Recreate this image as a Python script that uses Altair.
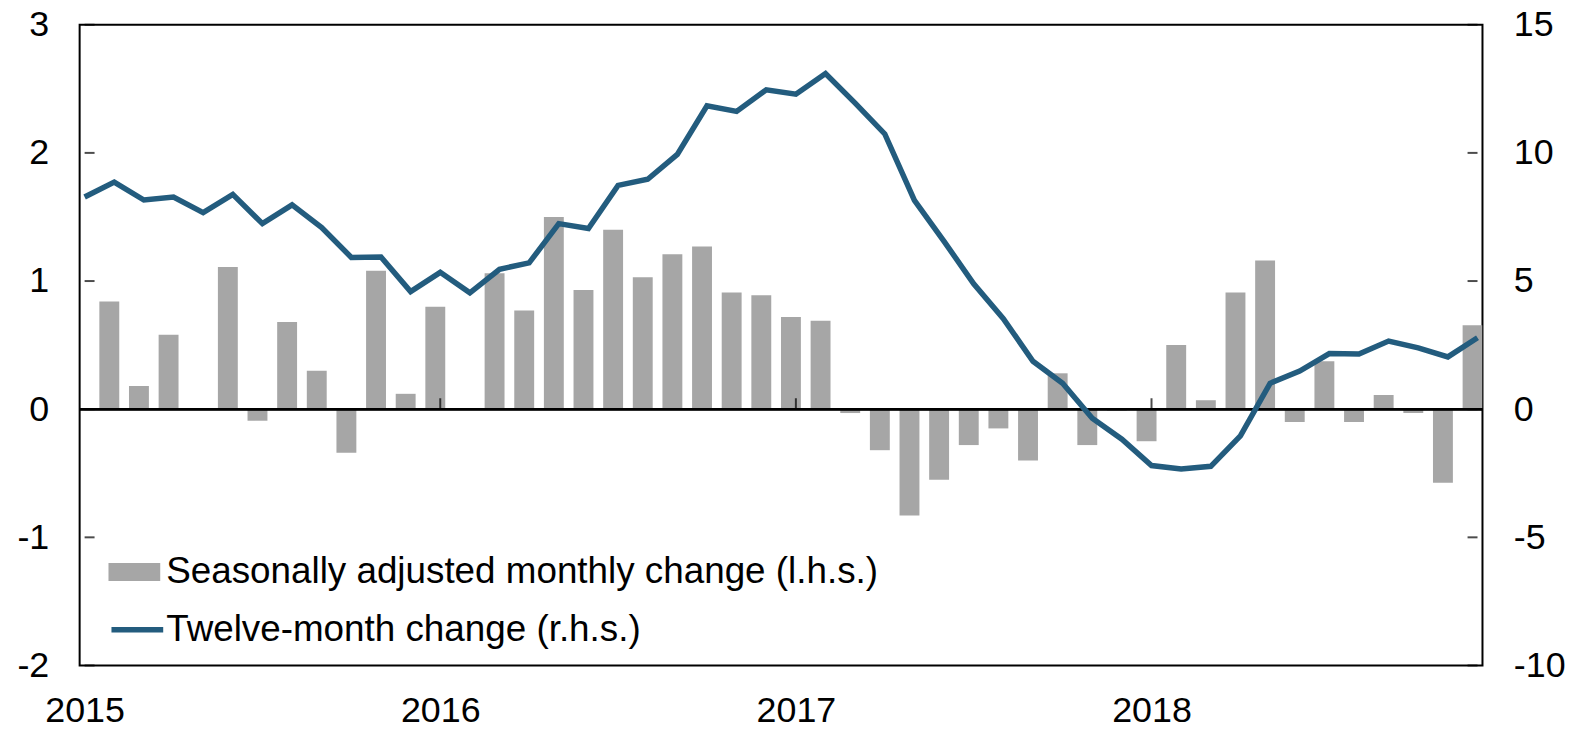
import altair as alt
import pandas as pd

# ---- data ----
years = ["2015", "2016", "2017", "2018"]
year_month_index = [0, 12, 24, 36]

# months Jan 2015 .. Dec 2018 (index 0..47)
month_index = list(range(48))

# Twelve-month change (r.h.s.), Jan 2015 .. Dec 2018
twelve_month = [8.28, 8.86, 8.16, 8.28, 7.67, 8.38, 7.24, 7.97, 7.09, 5.92, 5.94, 4.59,
                5.34, 4.54, 5.46, 5.71, 7.24, 7.05, 8.73, 8.97, 9.94, 11.84, 11.62, 12.46,
                12.29, 13.10, 11.94, 10.74, 8.15, 6.55, 4.89, 3.53, 1.87, 1.01, -0.35, -1.17,
                -2.20, -2.33, -2.23, -1.04, 1.01, 1.49, 2.17, 2.15, 2.66, 2.39, 2.04, 2.79]

# Seasonally adjusted monthly change (l.h.s.), Feb 2015 .. Dec 2018
bar_month_index = list(range(1, 48))
monthly = [0.84, 0.18, 0.58, 0.01, 1.11, -0.09, 0.68, 0.30, -0.34, 1.08, 0.12,
           0.80, 0.00, 1.06, 0.77, 1.50, 0.93, 1.40, 1.03, 1.21, 1.27, 0.91, 0.89,
           0.72, 0.69, -0.03, -0.32, -0.83, -0.55, -0.28, -0.15, -0.40, 0.28, -0.28, -0.01,
           -0.25, 0.50, 0.07, 0.91, 1.16, -0.10, 0.375, -0.10, 0.11, -0.03, -0.575, 0.655]

left_ticks = [-2, -1, 0, 1, 2, 3]
right_ticks = [-10, -5, 0, 5, 10, 15]

bar_label = "Seasonally adjusted monthly change (l.h.s.)"
line_label = "Twelve-month change (r.h.s.)"

BAR_COLOR = "#a6a6a6"
LINE_COLOR = "#235c7e"
FONT = "Liberation Sans"
AXIS_FS = 36
HYPHEN_EXPR = "replace(datum.label, '\u2212', '-')"

# ---- tables ----
bar_df = pd.DataFrame({
    "m": [i - 1 / 6 for i in bar_month_index],  # bars sit slightly before the month point
    "v": monthly,
    "s": bar_label,
})
line_df = pd.DataFrame({"m": month_index, "v": twelve_month, "s": line_label})
lt_df = pd.DataFrame({"t": left_ticks})
rt_df = pd.DataFrame({"t": right_ticks})
xt_df = pd.DataFrame({"m": year_month_index[1:]})

x_scale = alt.Scale(domain=[0, 47], nice=False, zero=False)
yl_scale = alt.Scale(domain=[-2, 3], nice=False, zero=False)
yr_scale = alt.Scale(domain=[-10, 15], nice=False, zero=False)

label_expr = " : ".join(
    f"datum.value == {v} ? '{y}'" for v, y in zip(year_month_index, years)
) + " : ''"

x_axis = alt.Axis(values=year_month_index, labelExpr=label_expr, orient="bottom",
                  ticks=False, domain=False, grid=False, title=None,
                  labelFontSize=AXIS_FS, labelFont=FONT, labelColor="black",
                  labelPadding=28, labelFlush=False, labelOverlap=False)

bars = alt.Chart(bar_df).mark_bar(size=20, clip=True, orient="vertical").encode(
    x=alt.X("m:Q", scale=x_scale, axis=x_axis),
    y=alt.Y("v:Q", scale=yl_scale,
            axis=alt.Axis(orient="left", values=left_ticks, ticks=False, domain=False,
                          grid=False, title=None, labelFontSize=AXIS_FS, labelFont=FONT,
                          labelColor="black", labelPadding=31, labelFlush=False,
                          labelExpr=HYPHEN_EXPR)),
    fill=alt.Fill("s:N", scale=alt.Scale(domain=[bar_label], range=[BAR_COLOR]),
                  legend=alt.Legend(orient="none", legendX=29, legendY=524, title=None,
                                    symbolType="M-1,-0.35L1,-0.35L1,0.35L-1,0.35Z",
                                    symbolSize=2704, symbolStrokeWidth=0, symbolOpacity=1,
                                    labelFontSize=37, labelFont=FONT, labelColor="black",
                                    labelOffset=6, labelLimit=2000, padding=0)),
)

zero_rule = alt.Chart(lt_df).mark_rule(color="black", strokeWidth=2).encode(
    y=alt.Y(datum=0, scale=yl_scale, axis=None)
)

left_tick_marks = alt.Chart(lt_df).mark_tick(
    orient="horizontal", size=10, thickness=2, xOffset=5, color="black"
).encode(
    y=alt.Y("t:Q", scale=yl_scale, axis=None),
    x=alt.X(datum=0, scale=x_scale),
)

x_tick_marks = alt.Chart(xt_df).mark_tick(
    orient="vertical", size=11, thickness=2, yOffset=-5.5, color="black"
).encode(
    x=alt.X("m:Q", scale=x_scale),
    y=alt.Y(datum=0, scale=yl_scale, axis=None),
)

right_tick_marks = alt.Chart(rt_df).mark_tick(
    orient="horizontal", size=10, thickness=2, xOffset=-5, color="black"
).encode(
    y=alt.Y("t:Q", scale=yr_scale, axis=None),
    x=alt.X(datum=47, scale=x_scale),
)

line = alt.Chart(line_df).mark_line(strokeWidth=5.5).encode(
    x=alt.X("m:Q", scale=x_scale),
    y=alt.Y("v:Q", scale=yr_scale,
            axis=alt.Axis(orient="right", values=right_ticks, ticks=False, domain=False,
                          grid=False, title=None, labelFontSize=AXIS_FS, labelFont=FONT,
                          labelColor="black", labelPadding=31, labelFlush=False,
                          labelExpr=HYPHEN_EXPR)),
    stroke=alt.Stroke("s:N", scale=alt.Scale(domain=[line_label], range=[LINE_COLOR]),
                      legend=alt.Legend(orient="none", legendX=29, legendY=579, title=None,
                                        symbolType="stroke", symbolSize=2704,
                                        symbolStrokeWidth=5.5,
                                        labelFontSize=37, labelFont=FONT, labelColor="black",
                                        labelOffset=0, labelLimit=2000, padding=0)),
)

chart = alt.layer(
    bars, zero_rule, left_tick_marks, x_tick_marks, right_tick_marks, line
).resolve_scale(
    y="independent"
).properties(
    width=1410,
    height=644,
    autosize=alt.AutoSizeParams(type="none"),
    padding={"left": 72, "top": 15, "right": 95, "bottom": 61},
    background="white",
).configure_view(
    stroke="black", strokeWidth=2
)

chart.save("out.html", embed_options={"renderer": "svg", "actions": False})
